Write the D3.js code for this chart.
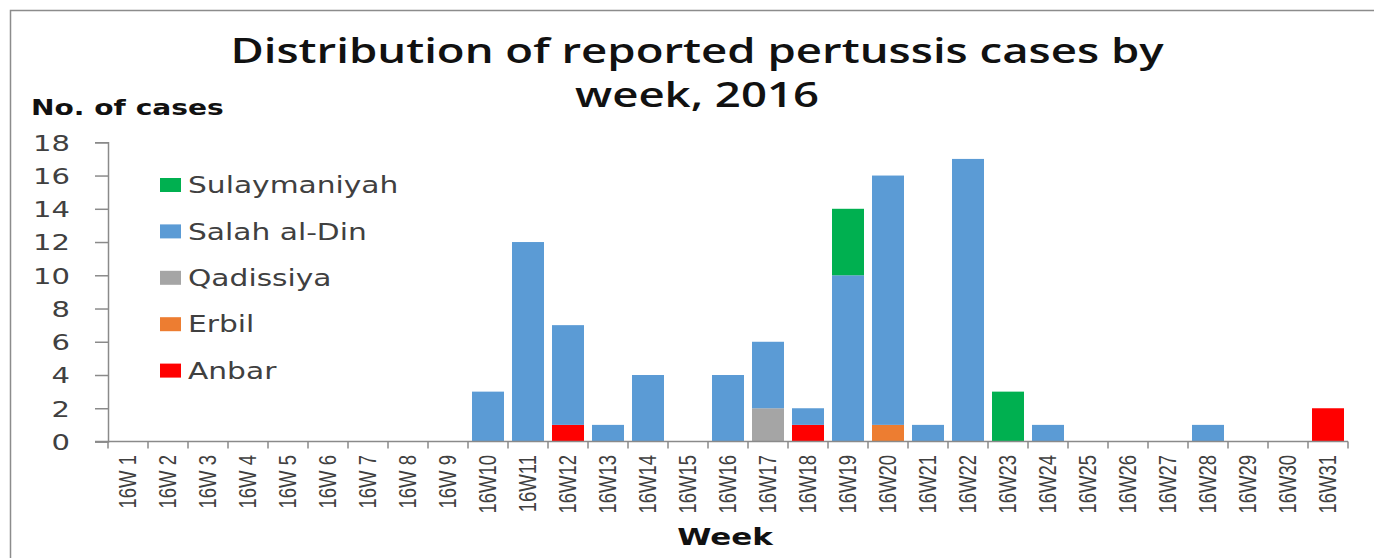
<!DOCTYPE html>
<html>
<head>
<meta charset="utf-8">
<script src="https://cdn.jsdelivr.net/npm/d3@7"></script>
<style>
  body { margin: 0; background: #fff; }
  svg { display: block; }
</style>
</head>
<body>
<div id="chart"></div>
<script>
// week labels (Excel pads single digits with a space)
const weeks = ["16W 1", "16W 2", "16W 3", "16W 4", "16W 5", "16W 6", "16W 7", "16W 8", "16W 9",
  "16W10", "16W11", "16W12", "16W13", "16W14", "16W15", "16W16", "16W17", "16W18", "16W19", "16W20",
  "16W21", "16W22", "16W23", "16W24", "16W25", "16W26", "16W27", "16W28", "16W29", "16W30", "16W31"];

const anbar        = [0,0,0,0,0,0,0,0,0,0,0,1,0,0,0,0,0,1,0,0,0,0,0,0,0,0,0,0,0,0,2];
const erbil        = [0,0,0,0,0,0,0,0,0,0,0,0,0,0,0,0,0,0,0,1,0,0,0,0,0,0,0,0,0,0,0];
const qadissiya    = [0,0,0,0,0,0,0,0,0,0,0,0,0,0,0,0,2,0,0,0,0,0,0,0,0,0,0,0,0,0,0];
const salahAlDin   = [0,0,0,0,0,0,0,0,0,3,12,6,1,4,0,4,4,1,10,15,1,17,0,1,0,0,0,1,0,0,0];
const sulaymaniyah = [0,0,0,0,0,0,0,0,0,0,0,0,0,0,0,0,0,0,4,0,0,0,3,0,0,0,0,0,0,0,0];

const yTicks = [0, 2, 4, 6, 8, 10, 12, 14, 16, 18];

// stacking order bottom -> top
const series = [
  { key: "Anbar", values: anbar, color: "#ff0000" },
  { key: "Erbil", values: erbil, color: "#ed7d31" },
  { key: "Qadissiya", values: qadissiya, color: "#a5a5a5" },
  { key: "Salah al-Din", values: salahAlDin, color: "#5b9bd5" },
  { key: "Sulaymaniyah", values: sulaymaniyah, color: "#00b050" }
];

const width = 1374, height = 558;
const SX = 1.32; // the original picture is stretched sideways, so is the text
const axisColor = "#8a8a8a";

const rows = weeks.map((w, i) => {
  const r = { week: w };
  series.forEach(s => r[s.key] = s.values[i]);
  return r;
});

const svg = d3.select("#chart").append("svg")
  .attr("width", width)
  .attr("height", height);

svg.append("rect").attr("width", width).attr("height", height).attr("fill", "#fff");

// outer frame (top and left edges visible)
svg.append("path")
  .attr("d", `M10.5,${height} V10.5 H${width}`)
  .attr("fill", "none")
  .attr("stroke", "#8c8c8c")
  .attr("stroke-width", 1.5);

const x = d3.scaleBand()
  .domain(weeks)
  .range([108, 1348])
  .paddingInner(0.2)
  .paddingOuter(0.1);

const y = d3.scaleLinear()
  .domain([0, 18])
  .range([441.5, 142.3]);

const stack = d3.stack().keys(series.map(s => s.key));
const stacked = stack(rows);

// bars
svg.append("g")
  .selectAll("g")
  .data(stacked)
  .join("g")
  .attr("fill", (d, i) => series[i].color)
  .selectAll("rect")
  .data(d => d.filter(p => p[1] > p[0]))
  .join("rect")
  .attr("x", d => x(d.data.week))
  .attr("y", d => y(d[1]))
  .attr("width", x.bandwidth())
  .attr("height", d => y(d[0]) - y(d[1]));

// y axis
const yAxis = svg.append("g")
  .attr("transform", "translate(108,0)")
  .call(d3.axisLeft(y).tickValues(yTicks).tickSize(13).tickFormat(d3.format("d")));
yAxis.select(".domain").attr("stroke", axisColor).attr("stroke-width", 1.5);
yAxis.selectAll(".tick line").attr("stroke", axisColor).attr("stroke-width", 1.5);
yAxis.selectAll(".tick text")
  .attr("x", null)
  .attr("transform", `translate(-38,0) scale(${SX},1)`)
  .attr("dy", "0.36em")
  .attr("text-anchor", "end")
  .attr("fill", "#404040")
  .style("font-family", "DejaVu Sans")
  .style("font-size", "22px");

// x axis line + boundary ticks
const xg = svg.append("g");
xg.append("line")
  .attr("x1", 95).attr("x2", x.range()[1])
  .attr("y1", y(0)).attr("y2", y(0))
  .attr("stroke", axisColor).attr("stroke-width", 1.5);
const step = x.step();
xg.selectAll("line.tk")
  .data(d3.range(weeks.length + 1))
  .join("line")
  .attr("class", "tk")
  .attr("x1", i => x.range()[0] + i * step)
  .attr("x2", i => x.range()[0] + i * step)
  .attr("y1", y(0)).attr("y2", y(0) + 7)
  .attr("stroke", axisColor).attr("stroke-width", 1.5);

xg.selectAll("text")
  .data(weeks)
  .join("text")
  .attr("transform", d => `translate(${x(d) + x.bandwidth() / 2 - 1},455) scale(${SX},1) rotate(-90)`)
  .attr("dy", "0.36em")
  .attr("text-anchor", "end")
  .attr("fill", "#404040")
  .style("font-family", "Liberation Sans")
  .style("font-size", "18.5px")
  .text(d => d);

// titles
const title = svg.append("text")
  .attr("text-anchor", "middle")
  .attr("fill", "#111")
  .style("font-family", "Open Sans")
  .style("font-weight", 600)
  .style("font-size", "34.5px");
title.append("tspan").attr("x", 0).attr("y", 0).text("Distribution of reported pertussis cases by");
title.append("tspan").attr("x", 0).attr("y", 44).text("week, 2016");
title.attr("transform", `translate(697,63) scale(${SX},1)`);

svg.append("text")
  .attr("transform", `translate(31,115) scale(${SX},1)`)
  .attr("fill", "#111")
  .style("font-family", "DejaVu Sans")
  .style("font-weight", "bold")
  .style("font-size", "21.3px")
  .text("No. of cases");

svg.append("text")
  .attr("transform", `translate(725,545) scale(${SX},1)`)
  .attr("text-anchor", "middle")
  .attr("fill", "#111")
  .style("font-family", "DejaVu Sans")
  .style("font-weight", "bold")
  .style("font-size", "23.5px")
  .text("Week");

// legend, top to bottom reversed from stacking order
const legendItems = series.slice().reverse();
const legend = svg.append("g")
  .selectAll("g")
  .data(legendItems)
  .join("g")
  .attr("transform", (d, i) => `translate(160,${185 + i * 46.4})`);
legend.append("rect")
  .attr("x", 0).attr("y", -7)
  .attr("width", 21).attr("height", 14)
  .attr("fill", d => d.color);
legend.append("text")
  .attr("transform", `translate(28,0) scale(${SX},1)`)
  .attr("dy", "0.36em")
  .attr("fill", "#404040")
  .style("font-family", "DejaVu Sans")
  .style("font-size", "22.5px")
  .text(d => d.key);
</script>
</body>
</html>
